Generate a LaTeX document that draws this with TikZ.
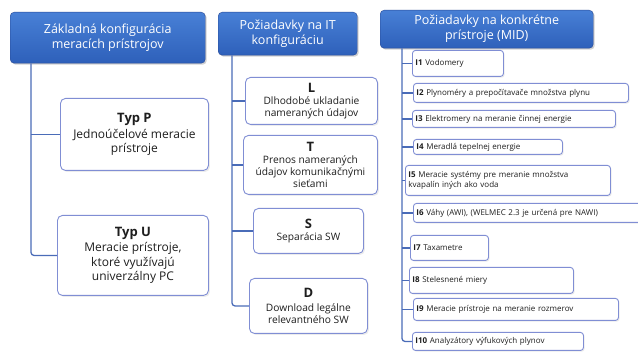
\documentclass[tikz,border=0pt]{standalone}
\usepackage{fontspec}
\setmainfont{Open Sans}
\usetikzlibrary{shadows}
\definecolor{hdrtop}{RGB}{72,128,214}
\definecolor{hdrbot}{RGB}{46,96,186}
\definecolor{hdrline}{RGB}{40,74,150}
\definecolor{boxline}{RGB}{128,142,212}
\definecolor{connc}{RGB}{74,108,184}
\definecolor{txt}{RGB}{30,30,30}
\tikzset{
  hdr/.style={rounded corners=4pt, draw=hdrline, top color=hdrtop, bottom color=hdrbot,
    text=white, align=center, anchor=north west, font=\fontsize{12.5}{15}\selectfont,
    drop shadow={opacity=0.35, shadow xshift=1.5pt, shadow yshift=-1.5pt}},
  bigbox/.style={rounded corners=5pt, draw=boxline, line width=0.9pt, fill=white,
    align=center, anchor=north west, text=txt, font=\fontsize{12}{14.5}\selectfont,
    drop shadow={opacity=0.15, shadow xshift=1.5pt, shadow yshift=-1.5pt}},
  midbox/.style={bigbox, font=\fontsize{10.2}{12.3}\selectfont, inner ysep=1pt},
  ibox/.style={rounded corners=3pt, draw=boxline, line width=0.9pt, fill=white,
    align=left, anchor=north west, text=txt, inner xsep=3pt, inner ysep=1pt,
    font=\fontsize{8}{10.5}\selectfont,
    drop shadow={opacity=0.15, shadow xshift=1.2pt, shadow yshift=-1.2pt}},
  conn/.style={draw=connc, line width=1.3pt, rounded corners=3pt},
}
\newcommand{\bigt}[1]{{\fontsize{13}{15}\selectfont\bfseries #1}}
\begin{document}
\begin{tikzpicture}[x=1pt,y=-1pt]
\useasboundingbox[fill=white] (0,0) rectangle (638,352);
% column 1
\node[hdr, minimum width=195pt, minimum height=51pt] (h1) at (10,12) {Základná konfigurácia\\meracích prístrojov};
\node[bigbox, minimum width=148pt, minimum height=72pt] (tp) at (60,98) {\bigt{Typ P}\\[1pt]Jednoúčelové meracie\\prístroje};
\node[bigbox, minimum width=151pt, minimum height=80pt] (tu) at (57,215) {\bigt{Typ U}\\[1pt]Meracie prístroje,\\ktoré využívajú\\univerzálny PC};
\coordinate (c1) at (31,0);
\draw[conn] (h1.south -| c1) |- (tu.west);
\draw[conn] (tp.west -| c1) -- (tp.west);
% column 2
\node[hdr, minimum width=139pt, minimum height=43pt] (h2) at (218,12) {Požiadavky na IT\\konfiguráciu};
\node[midbox, minimum width=132pt, minimum height=47pt] (nl) at (245,77) {\bigt{L}\\Dlhodobé ukladanie\\nameraných údajov};
\node[midbox, minimum width=134pt, minimum height=59pt] (nt) at (243,135) {\bigt{T}\\Prenos nameraných\\údajov komunikačnými\\sieťami};
\node[midbox, minimum width=110pt, minimum height=45pt] (ns) at (253,208) {\bigt{S}\\Separácia SW};
\node[midbox, minimum width=118pt, minimum height=55pt] (nd) at (249,278) {\bigt{D}\\[2pt]Download legálne\\relevantného SW};
\coordinate (c2) at (232,0);
\draw[conn] (h2.south -| c2) |- (nd.west);
\foreach \n in {nl,nt,ns} \draw[conn] (\n.west -| c2) -- (\n.west);
% column 3
\node[hdr, minimum width=213pt, minimum height=38pt] (h3) at (380,10) {Požiadavky na konkrétne\\prístroje (MID)};
\node[ibox, minimum width=91pt, minimum height=26pt, text width=85pt] (i1) at (412,50) {\textbf{I1} Vodomery};
\node[ibox, minimum width=215pt, minimum height=19pt, text width=209pt] (i2) at (413,83) {\textbf{I2} Plynoméry a prepočítavače množstva plynu};
\node[ibox, minimum width=203pt, minimum height=17pt, text width=197pt] (i3) at (412,110) {\textbf{I3} Elektromery na meranie činnej energie};
\node[ibox, minimum width=149pt, minimum height=15pt, text width=143pt] (i4) at (413,139) {\textbf{I4} Meradlá tepelnej energie};
\node[ibox, minimum width=205pt, minimum height=30pt, text width=199pt] (i5) at (405,165) {\textbf{I5} Meracie systémy pre meranie množstva\\kvapalín iných ako voda};
\node[ibox, minimum width=230pt, minimum height=19pt, text width=224pt] (i6) at (413,203) {\textbf{I6} Váhy (AWI), (WELMEC 2.3 je určená pre NAWI)};
\node[ibox, minimum width=78pt, minimum height=25pt, text width=72pt] (i7) at (410,235) {\textbf{I7} Taxametre};
\node[ibox, minimum width=164pt, minimum height=26pt, text width=158pt] (i8) at (409,267) {\textbf{I8} Stelesnené miery};
\node[ibox, minimum width=205pt, minimum height=22pt, text width=199pt] (i9) at (413,298) {\textbf{I9} Meracie prístroje na meranie rozmerov};
\node[ibox, minimum width=171pt, minimum height=18pt, text width=165pt] (i10) at (412,332) {\textbf{I10} Analyzátory výfukových plynov};
\coordinate (c3) at (402,0);
\draw[conn] (h3.south -| c3) |- (i10.west);
\foreach \n in {i1,i2,i3,i4,i5,i6,i7,i8,i9} \draw[conn] (\n.west -| c3) -- (\n.west);
\end{tikzpicture}
\end{document}
